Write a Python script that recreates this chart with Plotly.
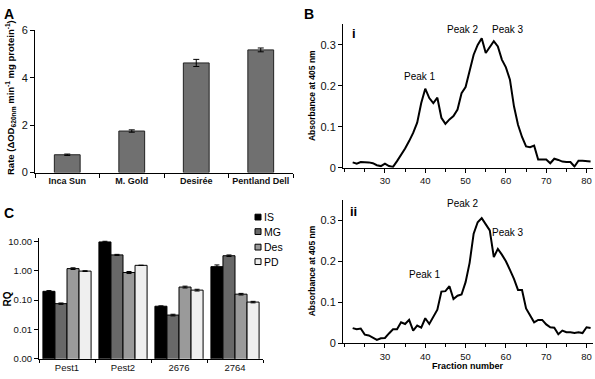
import plotly.graph_objects as go

W, H = 595, 379
FONT = "Liberation Sans, Arial, sans-serif"

# ---------- Data ----------
# Panel A
cultivars = ["Inca Sun", "M. Gold", "Desirée", "Pentland Dell"]
rate = [0.75, 1.75, 4.62, 5.17]
rate_err = [0.03, 0.05, 0.15, 0.08]

# Panel B
fractions = list(range(22, 82))
abs_i = [0.013, 0.010, 0.014, 0.014, 0.013, 0.011, 0.006, 0.004, 0.010, 0.004,
         0.002, 0.016, 0.030, 0.047, 0.065, 0.085, 0.110, 0.158, 0.193, 0.170,
         0.158, 0.171, 0.122, 0.107, 0.118, 0.126, 0.142, 0.182, 0.197, 0.237,
         0.276, 0.300, 0.316, 0.280, 0.296, 0.309, 0.296, 0.264, 0.245, 0.215,
         0.150, 0.105, 0.075, 0.052, 0.050, 0.054, 0.020, 0.020, 0.020, 0.011,
         0.022, 0.019, 0.015, 0.014, 0.014, 0.003, 0.017, 0.017, 0.016, 0.015]
abs_ii = [0.037, 0.034, 0.036, 0.021, 0.019, 0.014, 0.008, 0.012, 0.013, 0.024,
          0.034, 0.034, 0.051, 0.047, 0.057, 0.031, 0.043, 0.038, 0.061, 0.047,
          0.063, 0.082, 0.126, 0.127, 0.139, 0.108, 0.116, 0.119, 0.149, 0.196,
          0.267, 0.295, 0.305, 0.290, 0.275, 0.210, 0.230, 0.216, 0.200, 0.179,
          0.157, 0.130, 0.130, 0.085, 0.067, 0.051, 0.057, 0.057, 0.046, 0.039,
          0.038, 0.022, 0.031, 0.027, 0.027, 0.025, 0.027, 0.025, 0.039, 0.037]
peak_names = ["Peak 1", "Peak 2", "Peak 3"]
peak_pos_i = [(38.7, 0.222), (49.3, 0.338), (60.4, 0.338)]
peak_pos_ii = [(39.9, 0.168), (49.4, 0.340), (60.6, 0.270)]

# Panel C
genes = ["Pest1", "Pest2", "2676", "2764"]
series = ["IS", "MG", "Des", "PD"]
rq = {
    "IS":  [0.20, 9.7, 0.062, 1.39],
    "MG":  [0.076, 3.5, 0.031, 3.28],
    "Des": [1.19, 0.88, 0.28, 0.16],
    "PD":  [0.98, 1.54, 0.22, 0.086],
}
rq_err = {
    "IS":  [0.012, 0.5, 0.002, 0.2],
    "MG":  [0.004, 0.15, 0.002, 0.2],
    "Des": [0.08, 0.07, 0.02, 0.01],
    "PD":  [0.03, 0.0, 0.015, 0.005],
}
series_colors = ["#000000", "#686868", "#9a9a9a", "#efefef"]
rq_ticks = [0.001, 0.01, 0.1, 1, 10]
rq_ticktext = ["0.00", "0.01", "0.10", "1.00", "10.00"]


def px(x):
    return x / W


def py(y):
    return 1 - y / H


fig = go.Figure()

# Panel A bars
fig.add_trace(go.Bar(
    x=cultivars, y=rate, xaxis="x", yaxis="y", width=0.4,
    marker=dict(color="#707070", line=dict(color="#222222", width=1)),
    error_y=dict(type="data", array=rate_err, color="#000000", thickness=1, width=3),
    showlegend=False,
))

# Panel C bars
for s, c in zip(series, series_colors):
    fig.add_trace(go.Bar(
        x=genes, y=rq[s], name=s, xaxis="x2", yaxis="y2",
        marker=dict(color=c, line=dict(color="#000000", width=1)),
        error_y=dict(type="data", array=rq_err[s], color="#000000", thickness=1, width=2.5),
        showlegend=False,
    ))

# Panel B lines
fig.add_trace(go.Scatter(x=fractions, y=abs_i, mode="lines", xaxis="x3", yaxis="y3",
                         line=dict(color="#000000", width=2), showlegend=False))
fig.add_trace(go.Scatter(x=fractions, y=abs_ii, mode="lines", xaxis="x4", yaxis="y4",
                         line=dict(color="#000000", width=2), showlegend=False))

axis_common = dict(showline=True, linecolor="#000000", linewidth=1, ticks="outside",
                   ticklen=4, tickcolor="#000000", showgrid=False, zeroline=False,
                   tickfont=dict(family=FONT, size=11, color="#111111"))

xA_dom = [px(35), px(293)]
yA_dom = [py(172), py(25)]
xC_dom = [px(39), px(263)]
yC_dom = [py(364.3), py(239.3)]
xB_dom = [px(343), px(593)]
yBi_dom = [py(167), py(19)]
yBii_dom = [py(348.3), py(200)]

minor_b = dict(tickvals=[20, 25, 35, 45, 55, 65, 75], ticks="outside", ticklen=3,
               tickcolor="#000000")

fig.update_layout(
    width=W, height=H, margin=dict(l=0, r=0, t=0, b=0),
    paper_bgcolor="white", plot_bgcolor="white",
    bargap=0.14, bargroupgap=0,
    barmode="group",
    xaxis=dict(axis_common, domain=xA_dom, anchor="y", type="category",
               tickson="boundaries", tickangle=0,
               tickfont=dict(family=FONT, size=9, color="#111111", weight="bold")),
    yaxis=dict(axis_common, domain=yA_dom, anchor="x", range=[0, 6], dtick=2),
    xaxis2=dict(axis_common, domain=xC_dom, anchor="y2", type="category",
                tickson="boundaries", tickangle=0, ticklen=3,
                tickfont=dict(family=FONT, size=9.5, color="#111111")),
    yaxis2=dict(axis_common, domain=yC_dom, anchor="x2", type="log",
                range=[-3, 1.13], tickmode="array", tickvals=rq_ticks,
                ticktext=rq_ticktext, tickfont=dict(family=FONT, size=9.5, color="#111111")),
    xaxis3=dict(axis_common, domain=xB_dom, anchor="y3", range=[19.6, 81.6],
                tickmode="array", tickvals=[30, 40, 50, 60, 70, 80], minor=minor_b,
                tickfont=dict(family=FONT, size=9.5, color="#111111")),
    yaxis3=dict(axis_common, domain=yBi_dom, anchor="x3", range=[0, 0.35],
                tickmode="array", tickvals=[0, 0.1, 0.2, 0.3],
                ticktext=["0", "0.1", "0.2", "0.3"]),
    xaxis4=dict(axis_common, domain=xB_dom, anchor="y4", range=[19.6, 81.6],
                tickmode="array", tickvals=[30, 40, 50, 60, 70, 80], minor=minor_b,
                tickfont=dict(family=FONT, size=9.5, color="#111111")),
    yaxis4=dict(axis_common, domain=yBii_dom, anchor="x4", range=[0, 0.35],
                tickmode="array", tickvals=[0, 0.1, 0.2, 0.3],
                ticktext=["0", "0.1", "0.2", "0.3"]),
)

ann = []


def paper_text(x, y, text, size, bold=False, angle=0, xanchor="center"):
    t = f"<b>{text}</b>" if bold else text
    ann.append(dict(x=px(x), y=py(y), xref="paper", yref="paper", text=t,
                    showarrow=False, textangle=angle, xanchor=xanchor, yanchor="middle",
                    font=dict(family=FONT, size=size, color="#000000")))


# Panel letters
paper_text(2, 8, "A", 14, bold=True, xanchor="left")
paper_text(302, 8, "B", 14, bold=True, xanchor="left")
paper_text(2, 214, "C", 14, bold=True, xanchor="left")
paper_text(350, 28, "i", 13, bold=True, xanchor="left")
paper_text(348, 212, "ii", 13, bold=True, xanchor="left")

# Axis titles
paper_text(11, 95, "Rate (ΔOD<sub>620nm</sub> min<sup>-1</sup> mg protein<sup>-1</sup>)",
           9.5, bold=True, angle=-90)
paper_text(312, 93, "Absorbance at 405 nm", 8.5, bold=True, angle=-90)
paper_text(312, 274, "Absorbance at 405 nm", 8.5, bold=True, angle=-90)
paper_text(468, 372, "Fraction number", 9, bold=True)
paper_text(7, 303, "RQ", 10, bold=True, angle=-90)

# Peak labels
for name, (xx, yy) in zip(peak_names, peak_pos_i):
    ann.append(dict(x=xx, y=yy, xref="x3", yref="y3", text=name, showarrow=False,
                    font=dict(family=FONT, size=10, color="#000000")))
for name, (xx, yy) in zip(peak_names, peak_pos_ii):
    ann.append(dict(x=xx, y=yy, xref="x4", yref="y4", text=name, showarrow=False,
                    font=dict(family=FONT, size=10, color="#000000")))

# Legend for panel C (swatches + labels)
leg_y = [218, 233, 249, 264]
shapes = []
for s, c, yy in zip(series, series_colors, leg_y):
    shapes.append(dict(type="rect", xref="paper", yref="paper",
                       x0=px(255), x1=px(261), y0=py(yy + 3), y1=py(yy - 3),
                       fillcolor=c, line=dict(color="#000000", width=1)))
    ann.append(dict(x=px(262), y=py(yy), xref="paper", yref="paper", text=s,
                    showarrow=False, xanchor="left", yanchor="middle",
                    font=dict(family=FONT, size=10.5, color="#000000")))

fig.update_layout(annotations=ann, shapes=shapes)

fig.write_html(
    "out.html",
    config={"displayModeBar": False, "responsive": False},
    post_script="document.body.style.margin='0';document.body.style.overflow='hidden';",
)
